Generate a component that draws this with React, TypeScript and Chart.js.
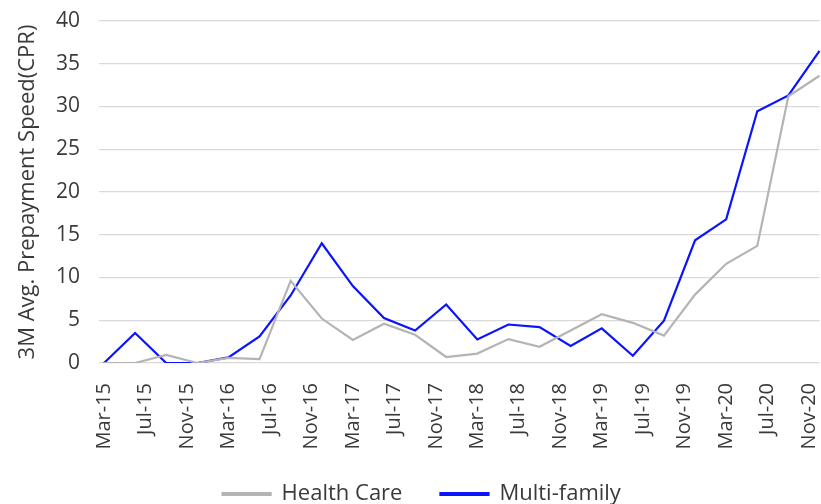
import React, { useEffect, useRef } from "react";
import { Chart, registerables } from "chart.js";

Chart.register(...registerables);

const MONTHS = ["Jan", "Feb", "Mar", "Apr", "May", "Jun", "Jul", "Aug", "Sep", "Oct", "Nov", "Dec"];

// monthly category labels Mar-15 .. Dec-20
const monthLabels: string[] = [];
for (let y = 15; y <= 20; y++) {
  for (let m = 0; m < 12; m++) {
    if (y === 15 && m < 2) continue;
    monthLabels.push(`${MONTHS[m]}-${y}`);
  }
}

// quarterly observation dates
const quarterDates = [
  "Mar-15", "Jun-15", "Sep-15", "Dec-15",
  "Mar-16", "Jun-16", "Sep-16", "Dec-16",
  "Mar-17", "Jun-17", "Sep-17", "Dec-17",
  "Mar-18", "Jun-18", "Sep-18", "Dec-18",
  "Mar-19", "Jun-19", "Sep-19", "Dec-19",
  "Mar-20", "Jun-20", "Sep-20", "Dec-20",
];

const healthCare = [
  0, 0, 0.95, 0,
  0.6, 0.45, 9.6, 5.2,
  2.7, 4.6, 3.3, 0.7,
  1.1, 2.8, 1.9, 3.8,
  5.7, 4.7, 3.2, 8.0,
  11.6, 13.7, 31.2, 33.6,
];

const multiFamily = [
  0, 3.5, 0, 0,
  0.65, 3.1, 7.9, 14.0,
  9.0, 5.25, 3.8, 6.85,
  2.75, 4.5, 4.2, 2.0,
  4.05, 0.85, 4.95, 14.35,
  16.8, 29.45, 31.3, 36.5,
];

const yTicks = [0, 5, 10, 15, 20, 25, 30, 35, 40];

function toMonthly(values: number[]): (number | null)[] {
  const out: (number | null)[] = monthLabels.map(() => null);
  quarterDates.forEach((d, i) => {
    const idx = monthLabels.indexOf(d);
    if (idx >= 0) out[idx] = values[i];
  });
  return out;
}

// let the rotated x labels extend below the axis box without being clipped,
// and nudge the legend slightly right
const layoutTweaks = {
  id: "layoutTweaks",
  afterLayout(chart: any) {
    if (chart.scales.x) chart.scales.x.bottom = chart.height;
    if (chart.legend) {
      chart.legend.left += 12;
      chart.legend.right += 12;
    }
  },
};

export default function App() {
  const ref = useRef<HTMLCanvasElement | null>(null);

  useEffect(() => {
    document.body.style.margin = "0";
    if (!ref.current) return;
    const font = "'Open Sans', Lato, sans-serif";
    const textColor = "#3a3a3a";
    const chart = new Chart(ref.current, {
      type: "line",
      plugins: [layoutTweaks],
      data: {
        labels: monthLabels,
        datasets: [
          {
            label: "Health Care",
            data: toMonthly(healthCare),
            borderColor: "#b4b4b4",
            backgroundColor: "#b4b4b4",
            borderWidth: 2.2,
            pointRadius: 0,
            spanGaps: true,
            tension: 0,
          },
          {
            label: "Multi-family",
            data: toMonthly(multiFamily),
            borderColor: "#0a14ff",
            backgroundColor: "#0a14ff",
            borderWidth: 2.2,
            pointRadius: 0,
            spanGaps: true,
            tension: 0,
          },
        ],
      },
      options: {
        responsive: false,
        animation: false,
        layout: { padding: { left: 0, right: 1.5, top: 21, bottom: -11 } },
        plugins: {
          tooltip: { enabled: false },
          legend: {
            position: "bottom",
            labels: {
              color: textColor,
              font: { family: font, size: 22 },
              boxWidth: 48,
              boxHeight: 2,
              padding: 38,
            },
          },
        },
        scales: {
          x: {
            type: "category",
            offset: false,
            grid: { display: false },
            border: { display: false },
            afterFit: (scale: any) => {
              scale.paddingRight = 0;
              scale.paddingLeft = 0;
              scale.height = 82;
            },
            ticks: {
              autoSkip: false,
              maxRotation: 90,
              minRotation: 90,
              color: textColor,
              font: { family: font, size: 20 },
              padding: 12,
              callback: (_v: any, i: number) => (i % 4 === 0 ? monthLabels[i] : null),
            },
          },
          y: {
            min: 0,
            max: 40,
            afterBuildTicks: (axis: any) => {
              axis.ticks = yTicks.map((v) => ({ value: v }));
            },
            afterFit: (scale: any) => {
              scale.width = 104;
              scale.paddingTop = 0;
              scale.paddingBottom = 0;
            },
            grid: { color: "#d9d9d9", lineWidth: 1.2, tickLength: 5 },
            border: { display: false },
            ticks: {
              color: textColor,
              font: { family: font, size: 21 },
              padding: 19,
            },
            title: {
              display: true,
              text: "3M Avg. Prepayment Speed(CPR)",
              color: textColor,
              font: { family: font, size: 22 },
              padding: { top: 15, bottom: 13 },
            },
          },
        },
      },
    });
    return () => chart.destroy();
  }, []);

  return (
    <div style={{ width: 821, height: 504 }}>
      <canvas ref={ref} width={821} height={504} />
    </div>
  );
}
